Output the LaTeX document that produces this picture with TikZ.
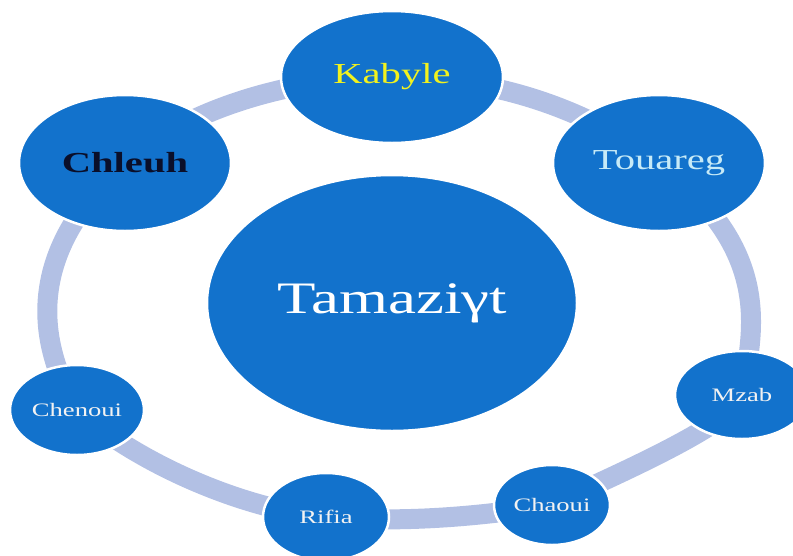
\documentclass[tikz,border=0pt]{standalone}
\usepackage{fontspec}
\setmainfont{Liberation Serif}[FakeStretch=1.4]
\usetikzlibrary{shapes.geometric}
\definecolor{nodeblue}{HTML}{1272CC}
\definecolor{ringblue}{HTML}{B2C0E4}
\definecolor{kabyleyellow}{HTML}{F2F21E}
\definecolor{touaregcyan}{HTML}{C6EAF7}
\definecolor{chleuhdark}{HTML}{0A0F2A}
\definecolor{softwhite}{HTML}{F2F2F2}
\pgfdeclarelayer{bg}
\pgfsetlayers{bg,main}
\begin{document}
\begin{tikzpicture}[x=1pt,y=-1pt,
  bubble/.style={ellipse,fill=nodeblue,draw=white,line width=2.5pt,inner sep=0pt},
  big/.style={bubble,minimum width=212pt,minimum height=136pt,font=\fontsize{29}{32}\selectfont},
  small/.style={bubble,minimum width=130pt,minimum height=89pt,text=softwhite,font=\fontsize{19}{22}\selectfont},
  ring/.style={draw=ringblue,line width=20pt,line join=round}]
\useasboundingbox (0,0) rectangle (793,555);
\node[bubble,minimum width=370pt,minimum height=256pt,text=white,font=\fontsize{45}{50}\selectfont] (tam) at (392,303) {Tamaziγt};
\node[big,minimum width=222pt,minimum height=132pt,text=kabyleyellow] (kab) at (392,77) {Kabyle};
\node[big,text=touaregcyan] (tou) at (659,163) {Touareg};
\node[big,text=chleuhdark,font=\fontsize{29}{32}\selectfont\bfseries] (chl) at (125,163) {Chleuh};
\node[small,minimum width=134pt,minimum height=90pt] (che) at (77,410) {Chenoui};
\node[small,minimum width=134pt,minimum height=88pt] (mzb) at (742,395) {Mzab};
\node[small,minimum width=116pt,minimum height=80pt] (cha) at (552,505) {Chaoui};
\node[small,minimum width=126pt,minimum height=88pt] (rif) at (326,517) {Rifia};
\begin{pgfonlayer}{bg}
\draw[ring] (kab.center) .. controls +(107,0) and +(-65.5,-50.4) .. (tou.center)
  .. controls +(117,90) and +(10,-61) .. (mzb.center)
  .. controls +(-5,30.5) and +(28,-15) .. (cha.center)
  .. controls +(-75,12) and +(75,6) .. (rif.center)
  .. controls +(-80,-7) and +(63,55) .. (che.center)
  .. controls +(-40,-67) and +(-101,90) .. (chl.center)
  .. controls +(60,-53) and +(-101,0) .. (kab.center);
\end{pgfonlayer}
\end{tikzpicture}
\end{document}
